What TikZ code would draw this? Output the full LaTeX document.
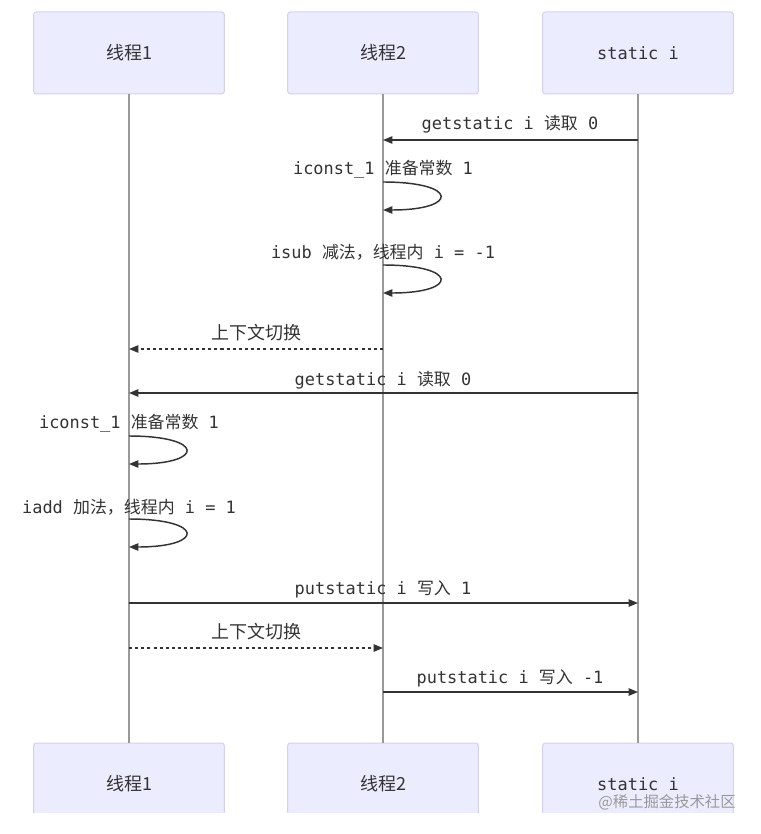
\documentclass[tikz,border=0pt]{standalone}
\usepackage{fontspec}
\setmonofont{DejaVu Sans Mono}
\newfontfamily\cjk{Noto Sans CJK SC}
\usetikzlibrary{arrows.meta}

\definecolor{actorfill}{HTML}{ECECFF}
\definecolor{actorline}{HTML}{D4D0F4}
\definecolor{msgclr}{HTML}{333333}
\definecolor{lifeclr}{HTML}{999999}

\tikzset{
  actor/.style={draw=actorline, fill=actorfill, rounded corners=2pt, line width=0.75pt,
    minimum width=143pt, minimum height=61.5pt, inner sep=0pt,
    font=\fontsize{13.5}{15}\selectfont, text=msgclr},
  lifeline/.style={draw=lifeclr, line width=0.8pt},
  msg/.style={draw=msgclr, line width=1.1pt, -{Triangle[length=7pt,width=5.5pt]}},
  switch/.style={msg, dash pattern=on 2.3pt off 2.3pt},
  lbl/.style={font=\fontsize{12.7}{15}\selectfont\ttfamily, text=msgclr, inner sep=0pt}
}

\begin{document}
\begin{tikzpicture}[x=0.75pt, y=-0.75pt]
\useasboundingbox (0,0) rectangle (760,834);

% actors
\node[actor] (t1top) at (129,53) {\cjk 线程1};
\node[actor] (t2top) at (383,53) {\cjk 线程2};
\node[actor] (sitop) at (638,53) {\ttfamily\fontsize{12.7}{15}\selectfont static i};
\begin{scope}
\clip (0,700) rectangle (760,812);
\node[actor] (t1bot) at (129,784) {\cjk 线程1};
\node[actor] (t2bot) at (383,784) {\cjk 线程2};
\node[actor] (sibot) at (638,784) {\ttfamily\fontsize{12.7}{15}\selectfont static i};
\end{scope}

% lifelines
\draw[lifeline] (t1top) -- (t1bot);
\draw[lifeline] (t2top) -- (t2bot);
\draw[lifeline] (sitop) -- (sibot);

% points on the lifelines
\foreach \n/\y in {1/140, 2/182, 3/210, 4/265, 5/293, 6/349, 7/393,
                   8/436, 9/464, 10/519, 11/547, 12/603, 13/648, 14/692} {
  \coordinate (a\n) at (129,\y);
  \coordinate (b\n) at (383,\y);
  \coordinate (c\n) at (638,\y);
}

% messages
\node[lbl] (m1) at (510,124) {getstatic i {\cjk 读取} 0};
\draw[msg] (c1) -- (b1);

\node[lbl] (m2) at (383,169) {iconst\_1 {\cjk 准备常数} 1};
\draw[msg] (b2) .. controls +(76,0) and +(76,0) .. (b3);

\node[lbl] (m3) at (383,252) {isub {\cjk 减法，线程内} i = -1};
\draw[msg] (b4) .. controls +(76,0) and +(76,0) .. (b5);

\node[lbl, font=\fontsize{13.5}{15}\selectfont\cjk] (m4) at (256,333) {上下文切换};
\draw[switch] (b6) -- (a6);

\node[lbl] (m5) at (383,380) {getstatic i {\cjk 读取} 0};
\draw[msg] (c7) -- (a7);

\node[lbl] (m6) at (129,423) {iconst\_1 {\cjk 准备常数} 1};
\draw[msg] (a8) .. controls +(76,0) and +(76,0) .. (a9);

\node[lbl] (m7) at (129,507) {iadd {\cjk 加法，线程内} i = 1};
\draw[msg] (a10) .. controls +(76,0) and +(76,0) .. (a11);

\node[lbl] (m8) at (383,589) {putstatic i {\cjk 写入} 1};
\draw[msg] (a12) -- (c12);

\node[lbl, font=\fontsize{13.5}{15}\selectfont\cjk] (m9) at (256,632) {上下文切换};
\draw[switch] (a13) -- (b13);

\node[lbl] (m10) at (510,678) {putstatic i {\cjk 写入} -1};
\draw[msg] (b14) -- (c14);

% watermark
\node[text=gray!80, font=\fontsize{11.5}{13}\selectfont\cjk, inner sep=0pt] (wm) at (667,802) {@稀土掘金技术社区};
\end{tikzpicture}
\end{document}
